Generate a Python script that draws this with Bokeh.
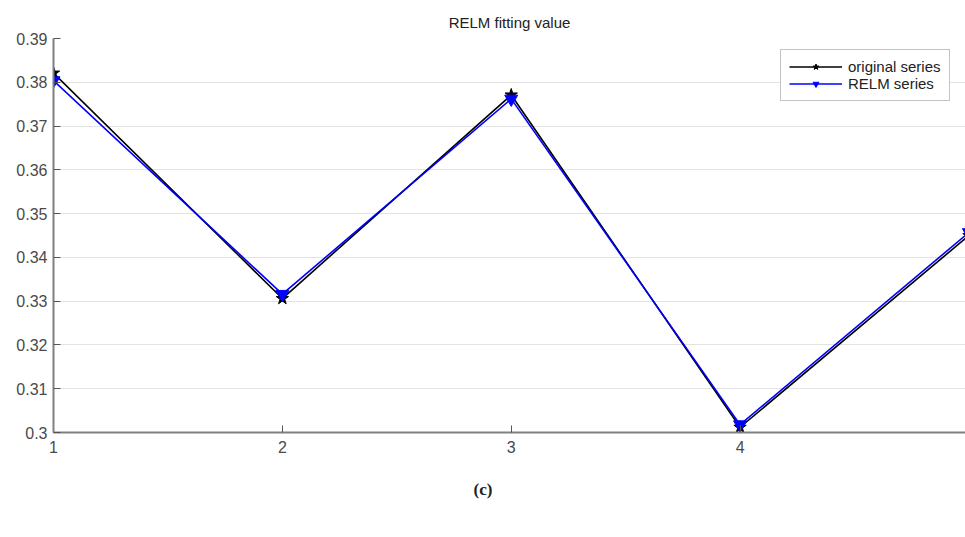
from bokeh.plotting import figure
from bokeh.models import FixedTicker, Range1d, Legend, LegendItem, Title
from bokeh.embed import file_html
from bokeh.resources import INLINE

x_vals = [1, 2, 3, 4, 5]
original_series = [0.3821, 0.3306, 0.3771, 0.3012, 0.3450]
relm_series = [0.3804, 0.3316, 0.3762, 0.3018, 0.3457]
y_ticks = [0.30, 0.31, 0.32, 0.33, 0.34, 0.35, 0.36, 0.37, 0.38, 0.39]
y_tick_labels = ["0.3", "0.31", "0.32", "0.33", "0.34", "0.35", "0.36", "0.37", "0.38", "0.39"]
x_ticks = [1, 2, 3, 4, 5]

FONT = "Liberation Sans"

p = figure(width=965, height=530, output_backend="svg", toolbar_location=None,
           x_range=Range1d(1, 4.985), y_range=Range1d(0.30, 0.39),
           min_border_left=53, min_border_right=0, min_border_top=38, min_border_bottom=98)
p.outline_line_color = None
p.background_fill_color = "white"

p.title.text = "RELM fitting value"
p.title.align = "center"
p.title.text_font = FONT
p.title.text_font_size = "15px"
p.title.text_font_style = "normal"
p.title.text_color = "#222222"
p.title.standoff = 15

p.xgrid.grid_line_color = None
p.ygrid.grid_line_color = "#e3e3e3"
p.ygrid.ticker = FixedTicker(ticks=y_ticks)

for ax in (p.xaxis, p.yaxis):
    ax.axis_line_color = "#808080"
    ax.axis_line_width = 2
    ax.major_tick_line_color = "#555555"
    ax.major_tick_in = 7
    ax.major_tick_out = 0
    ax.minor_tick_line_color = None
    ax.major_label_text_font = FONT
    ax.major_label_text_font_size = "16px"
    ax.major_label_text_color = "#4a4a4a"

p.yaxis.ticker = FixedTicker(ticks=y_ticks)
p.yaxis.major_label_overrides = {t: l for t, l in zip(y_ticks, y_tick_labels)}
p.yaxis.major_label_standoff = 6
p.xaxis.ticker = FixedTicker(ticks=x_ticks)
p.xaxis.major_label_standoff = 8

l1 = p.line(x_vals, original_series, line_color="black", line_width=1.6)
m1 = p.scatter(x_vals, original_series, marker="star", size=13, fill_color="black", line_color="black")
l2 = p.line(x_vals, relm_series, line_color="blue", line_width=1.6)
m2 = p.scatter(x_vals, relm_series, marker="inverted_triangle", size=13, fill_color="blue", line_color="blue")

legend = Legend(items=[LegendItem(label="original series", renderers=[l1, m1]),
                       LegendItem(label="RELM series", renderers=[l2, m2])])
legend.label_text_font = FONT
legend.label_text_font_size = "15px"
legend.label_text_color = "#222222"
legend.border_line_color = "#888888"
legend.border_line_width = 1
legend.glyph_width = 53
legend.glyph_height = 15
legend.label_height = 15
legend.spacing = 0
legend.padding = 8
legend.margin = 0
legend.label_standoff = 6
legend.location = (727, 331)
p.add_layout(legend)

caption = Title(text="(c)", align="left", text_font="Liberation Serif",
                text_font_size="17px", text_font_style="bold", text_color="#222222",
                standoff=44, offset=420)
p.add_layout(caption, "below")

open("out.html", "w").write(file_html(p, INLINE))
